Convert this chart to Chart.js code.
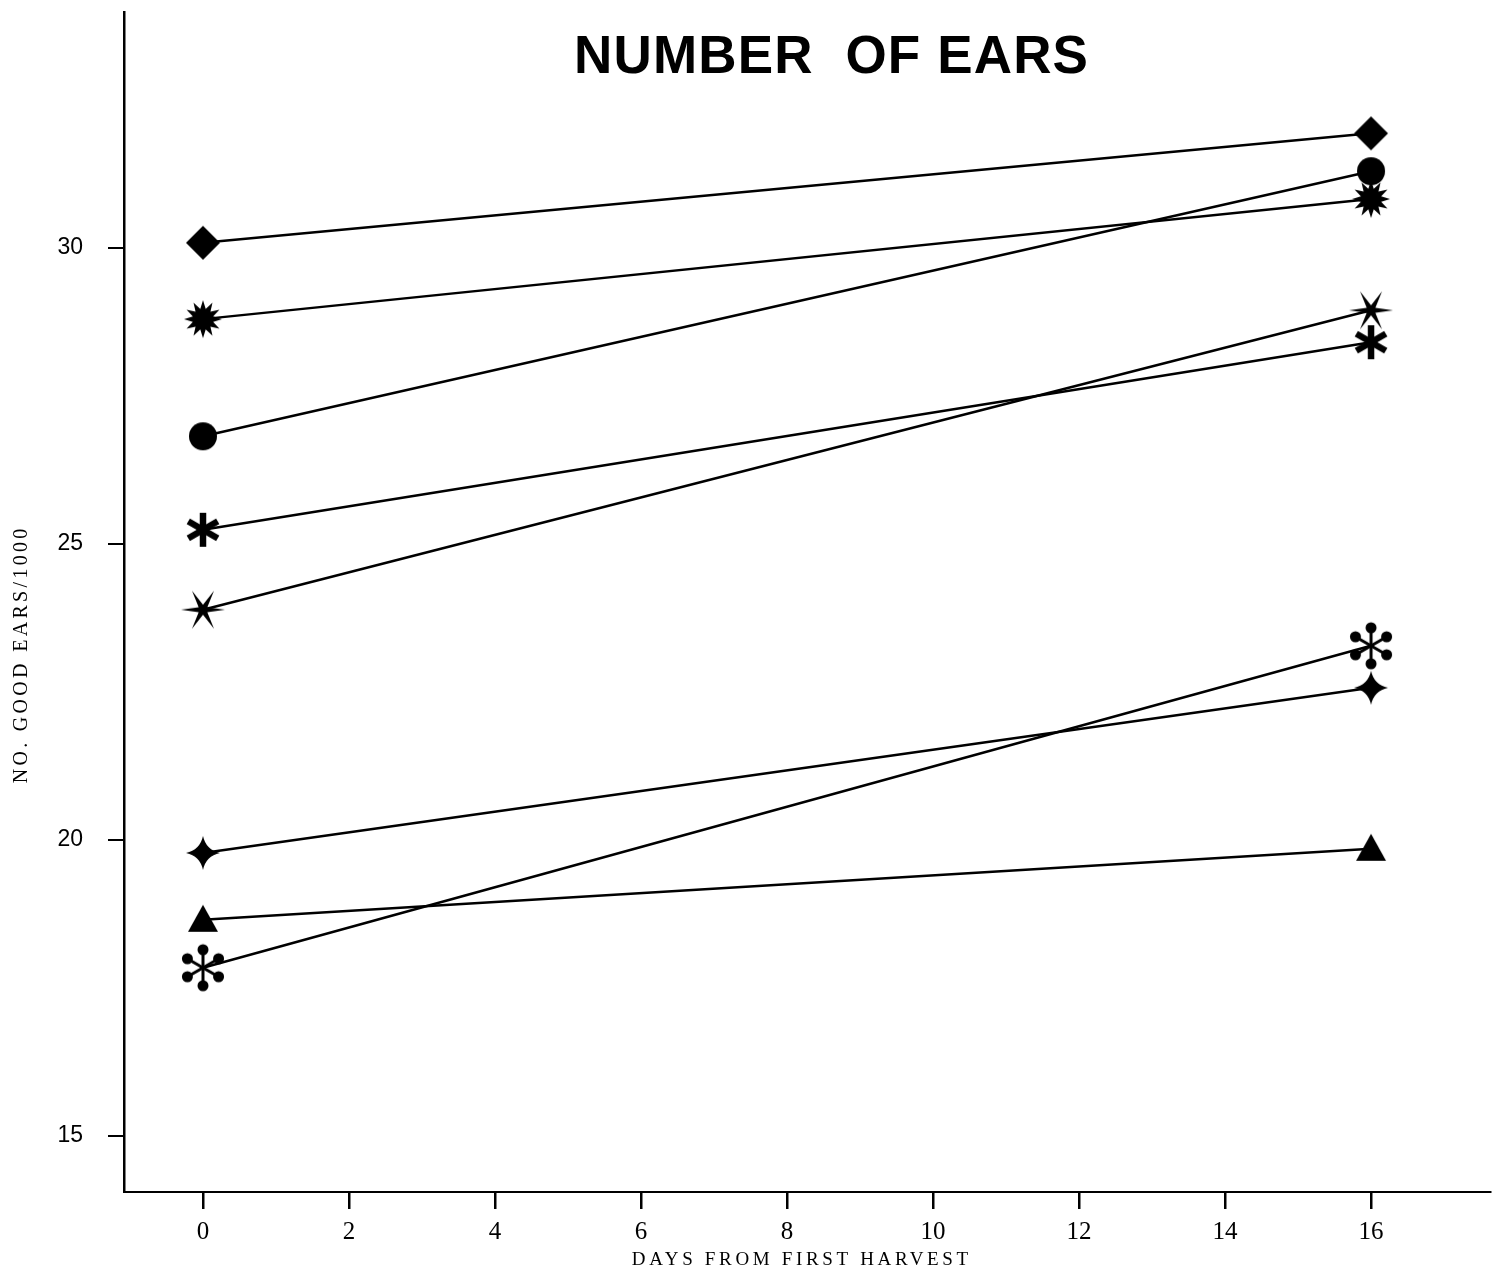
<!DOCTYPE html>
<html>
<head>
<meta charset="utf-8">
<script src="https://cdn.jsdelivr.net/npm/chart.js@4/dist/chart.umd.min.js"></script>
<style>
html,body{margin:0;padding:0;background:#fff;}
#wrap{position:relative;width:1501px;height:1272px;}
</style>
</head>
<body>
<div id="wrap"><canvas id="c" width="1501" height="1272"></canvas></div>
<script>
// ---- data ----
const days = [0, 16];
const xTicks = [0, 2, 4, 6, 8, 10, 12, 14, 16];
const yTicks = [15, 20, 25, 30];
const diamondSeries   = [30.09, 31.94];
const sunburstSeries  = [28.80, 30.83];
const circleSeries    = [26.82, 31.30];
const asteriskSeries  = [25.24, 28.41];
const star6Series     = [23.89, 28.95];
const flowerSeries    = [17.84, 23.28];
const star4Series     = [19.78, 22.57];
const triangleSeries  = [18.65, 19.85];
const chartTitle = 'NUMBER  OF EARS';
const xTitle = 'DAYS FROM FIRST HARVEST';
const yTitle = 'NO. GOOD EARS/1000';

// ---- marker images ----
function mk(size, draw){
  const c = document.createElement('canvas');
  c.width = size; c.height = size;
  const g = c.getContext('2d');
  g.translate(size/2, size/2);
  g.fillStyle = '#000'; g.strokeStyle = '#000';
  draw(g);
  return c;
}
function starPath(g, n, ro, ri, rot){
  g.beginPath();
  for(let i=0;i<2*n;i++){
    const r = i%2===0 ? ro : ri;
    const a = rot + i*Math.PI/n;
    const x = r*Math.cos(a), y = r*Math.sin(a);
    if(i===0) g.moveTo(x,y); else g.lineTo(x,y);
  }
  g.closePath();
}
const mDiamond = mk(44, g=>{ g.beginPath(); g.moveTo(0,-17); g.lineTo(17,0); g.lineTo(0,17); g.lineTo(-17,0); g.closePath(); g.fill(); });
const mSun = mk(48, g=>{ starPath(g,12,19,10.5,-Math.PI/2); g.fill(); });
const mCircle = mk(44, g=>{ g.beginPath(); g.arc(0,0,14,0,Math.PI*2); g.fill(); });
const mAster = mk(44, g=>{ g.lineWidth=6.5; g.lineCap='butt';
  for(let k=0;k<3;k++){ const a=Math.PI/2 + k*Math.PI/3; g.beginPath(); g.moveTo(-17*Math.cos(a),-17*Math.sin(a)); g.lineTo(17*Math.cos(a),17*Math.sin(a)); g.stroke(); } });
const mStar6 = mk(52, g=>{ starPath(g,6,22,5,Math.PI); g.fill(); });
const mFlower = mk(54, g=>{ g.lineWidth=3;
  for(let k=0;k<6;k++){ const a=-Math.PI/2 + k*Math.PI/3; const x=18*Math.cos(a), y=18*Math.sin(a);
    g.beginPath(); g.moveTo(0,0); g.lineTo(x,y); g.stroke(); g.beginPath(); g.arc(x,y,5.5,0,Math.PI*2); g.fill(); } });
const mStar4 = mk(44, g=>{ const R=17; g.beginPath(); g.moveTo(0,-R);
  g.quadraticCurveTo(3,-3,R,0); g.quadraticCurveTo(3,3,0,R); g.quadraticCurveTo(-3,3,-R,0); g.quadraticCurveTo(-3,-3,0,-R); g.closePath(); g.fill(); });
const mTri = mk(44, g=>{ g.beginPath(); g.moveTo(0,-15); g.lineTo(15,12); g.lineTo(-15,12); g.closePath(); g.fill(); });

function ds(label, values, img){
  return { label, data: days.map((d,i)=>({x:d, y:values[i]})), pointStyle: img,
    borderColor:'#000', backgroundColor:'#000', borderWidth:2.5, pointRadius:18, pointHoverRadius:18, tension:0 };
}

function spacedText(ctx, text, cx, cy, targetW){
  const n = text.length;
  ctx.letterSpacing = '0px';
  const w = ctx.measureText(text).width;
  const sp = Math.max(0, (targetW - w) / n);
  ctx.letterSpacing = sp + 'px';
  ctx.textAlign = 'left';
  ctx.fillText(text, cx - (w + sp*(n-1))/2, cy);
  ctx.letterSpacing = '0px';
}

const textPlugin = {
  id:'textPlugin',
  afterDraw(chart){
    const ctx = chart.ctx; ctx.save();
    ctx.fillStyle = '#000'; ctx.textBaseline = 'middle';
    ctx.font = 'bold 53px "Liberation Sans", Arial, sans-serif';
    spacedText(ctx, chartTitle, 831, 58, 515);
    ctx.font = '19px "Liberation Serif", serif';
    spacedText(ctx, xTitle, 800, 1260, 340);
    ctx.save();
    ctx.translate(22, 656); ctx.rotate(-Math.PI/2);
    ctx.font = '20px "Liberation Serif", serif';
    spacedText(ctx, yTitle, 0, 0, 258);
    ctx.restore();
    ctx.restore();
  }
};

new Chart(document.getElementById('c'), {
  type: 'line',
  data: { datasets: [
    ds('diamond', diamondSeries, mDiamond),
    ds('sunburst', sunburstSeries, mSun),
    ds('circle', circleSeries, mCircle),
    ds('asterisk', asteriskSeries, mAster),
    ds('star6', star6Series, mStar6),
    ds('flower', flowerSeries, mFlower),
    ds('star4', star4Series, mStar4),
    ds('triangle', triangleSeries, mTri)
  ]},
  options: {
    responsive:false, animation:false,
    layout:{ autoPadding:false, padding:{ left:0, right:11, top:12, bottom:0 } },
    plugins:{ legend:{display:false}, tooltip:{enabled:false}, title:{display:false} },
    scales:{
      x:{ type:'linear', min:-1.082, max:17.63,
        afterBuildTicks(s){ s.ticks = xTicks.map(v=>({value:v})); },
        afterFit(s){ s.height = 80; s.paddingLeft = 0; s.paddingRight = 0; },
        border:{ display:true, color:'#000', width:2 },
        grid:{ drawOnChartArea:false, drawTicks:true, tickLength:17, color:'#000', lineWidth:2.5 },
        ticks:{ color:'#000', padding:8, font:{ family:'"Liberation Serif", serif', size:25 }, maxRotation:0 },
        title:{ display:false }
      },
      y:{ type:'linear', min:14.05, max:33.99,
        afterBuildTicks(s){ s.ticks = yTicks.map(v=>({value:v})); },
        afterFit(s){ s.width = 124; s.paddingTop = 0; s.paddingBottom = 0; },
        border:{ display:true, color:'#000', width:2.5 },
        grid:{ drawOnChartArea:false, drawTicks:true, tickLength:16, color:'#000', lineWidth:2 },
        ticks:{ color:'#000', padding:25, font:{ family:'"Liberation Sans", sans-serif', size:23 } },
        title:{ display:false }
      }
    }
  },
  plugins:[textPlugin]
});
</script>
</body>
</html>
